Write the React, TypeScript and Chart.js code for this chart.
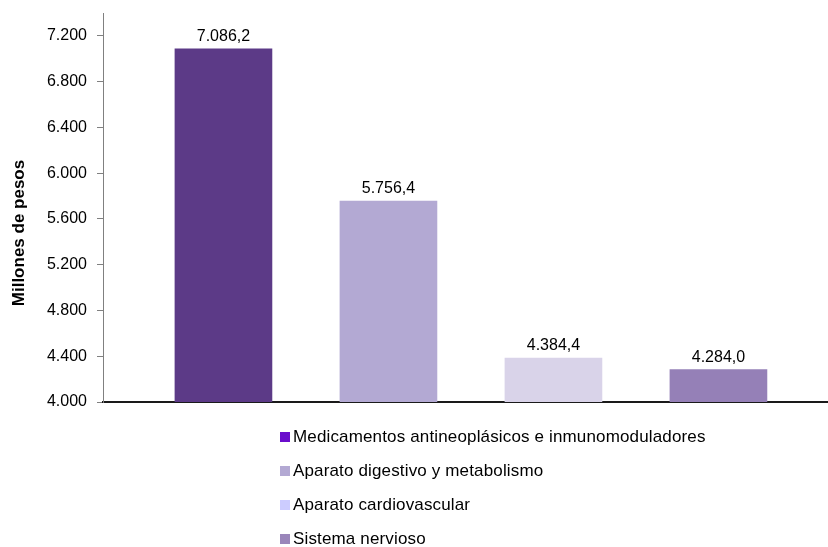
import React, { useEffect, useRef } from "react";
import { Chart, registerables } from "chart.js";

Chart.register(...registerables);

const categories = [
  "Medicamentos antineoplásicos e inmunomoduladores",
  "Aparato digestivo y metabolismo",
  "Aparato cardiovascular",
  "Sistema nervioso",
];
const values = [7086.2, 5756.4, 4384.4, 4284.0];
const yTicks = [4000, 4400, 4800, 5200, 5600, 6000, 6400, 6800, 7200];
const yMin = 4000;
const yMax = 7400;
const barColors = ["#5C3A87", "#B3A9D3", "#D9D3E9", "#9580B7"];
const legendColors = ["#6A0DCC", "#B3A9D3", "#CCCCFF", "#9A86BA"];
const yTitle = "Millones de pesos";

const FONT = "'Liberation Sans', Arial, sans-serif";

function fmt(v: number, decimals: number): string {
  const fixed = v.toFixed(decimals);
  const [intPart, decPart] = fixed.split(".");
  const withSep = intPart.replace(/\B(?=(\d{3})+(?!\d))/g, ".");
  return decPart ? withSep + "," + decPart : withSep;
}

const yTitlePlugin = {
  id: "yTitlePlugin",
  afterDraw(chart: any) {
    const ctx = chart.ctx;
    ctx.save();
    ctx.translate(19, 233);
    ctx.rotate(-Math.PI / 2);
    ctx.font = `bold 17px ${FONT}`;
    ctx.fillStyle = "#000";
    ctx.textAlign = "center";
    ctx.textBaseline = "middle";
    ctx.fillText(yTitle, 0, 0);
    ctx.restore();
  },
};

const dataLabelPlugin = {
  id: "dataLabelPlugin",
  afterDatasetsDraw(chart: any) {
    const ctx = chart.ctx;
    const meta = chart.getDatasetMeta(0);
    ctx.save();
    ctx.font = `16px ${FONT}`;
    ctx.fillStyle = "#000";
    ctx.textAlign = "center";
    ctx.textBaseline = "alphabetic";
    meta.data.forEach((bar: any, i: number) => {
      ctx.fillText(fmt(values[i], 1), bar.x, bar.y - 8);
    });
    ctx.restore();
  },
};

export default function App() {
  const canvasRef = useRef<HTMLCanvasElement | null>(null);

  useEffect(() => {
    if (!canvasRef.current) return;
    const chart = new Chart(canvasRef.current, {
      type: "bar",
      data: {
        datasets: [
          {
            label: "Millones de pesos",
            data: categories.map((_, i) => ({ x: i + 1, y: values[i] })) as any,
            backgroundColor: barColors,
            borderWidth: 0,
            barThickness: 97,
          },
        ],
      },
      options: {
        animation: false,
        responsive: false,
        layout: { padding: { top: 13, bottom: 145, left: 0, right: 0 } },
        plugins: {
          legend: { display: false },
          tooltip: { enabled: false },
          title: { display: false },
        },
        scales: {
          x: {
            type: "linear",
            min: 0.27,
            max: 4.664,
            offset: false,
            ticks: { display: false },
            grid: { display: false },
            border: { display: true, color: "#1a1a1a", width: 2 },
            afterFit: (scale: any) => {
              scale.height = 0;
              scale.paddingLeft = 0;
              scale.paddingRight = 0;
            },
          },
          y: {
            type: "linear",
            min: yMin,
            max: yMax,
            afterBuildTicks: (scale: any) => {
              scale.ticks = yTicks.map((v) => ({ value: v }));
            },
            afterFit: (scale: any) => {
              scale.width = 103;
              scale.paddingTop = 0;
              scale.paddingBottom = 0;
            },
            ticks: {
              padding: 10,
              color: "#000",
              font: { family: FONT, size: 16 },
              callback: (v: any) => fmt(Number(v), 0),
            },
            grid: {
              drawOnChartArea: false,
              drawTicks: true,
              tickLength: 6,
              color: "#808080",
            },
            border: { display: true, color: "#808080", width: 1 },
          },
        },
      },
      plugins: [yTitlePlugin, dataLabelPlugin],
    });
    return () => chart.destroy();
  }, []);

  return (
    <div
      style={{
        position: "fixed",
        left: 0,
        top: 0,
        width: 828,
        height: 547,
        background: "#fff",
        overflow: "hidden",
      }}
    >
      <canvas ref={canvasRef} width={828} height={547} style={{ display: "block" }} />
      <div
        style={{
          position: "absolute",
          left: 280,
          top: 420,
          display: "flex",
          flexDirection: "column",
          fontFamily: FONT,
          fontSize: 17,
          letterSpacing: 0.15,
          color: "#000",
        }}
      >
        {categories.map((c, i) => (
          <div
            key={c}
            style={{ height: 34, display: "flex", alignItems: "center", whiteSpace: "nowrap" }}
          >
            <span
              style={{
                display: "inline-block",
                width: 10,
                height: 10,
                background: legendColors[i],
                marginRight: 3,
              }}
            />
            <span>{c}</span>
          </div>
        ))}
      </div>
    </div>
  );
}
